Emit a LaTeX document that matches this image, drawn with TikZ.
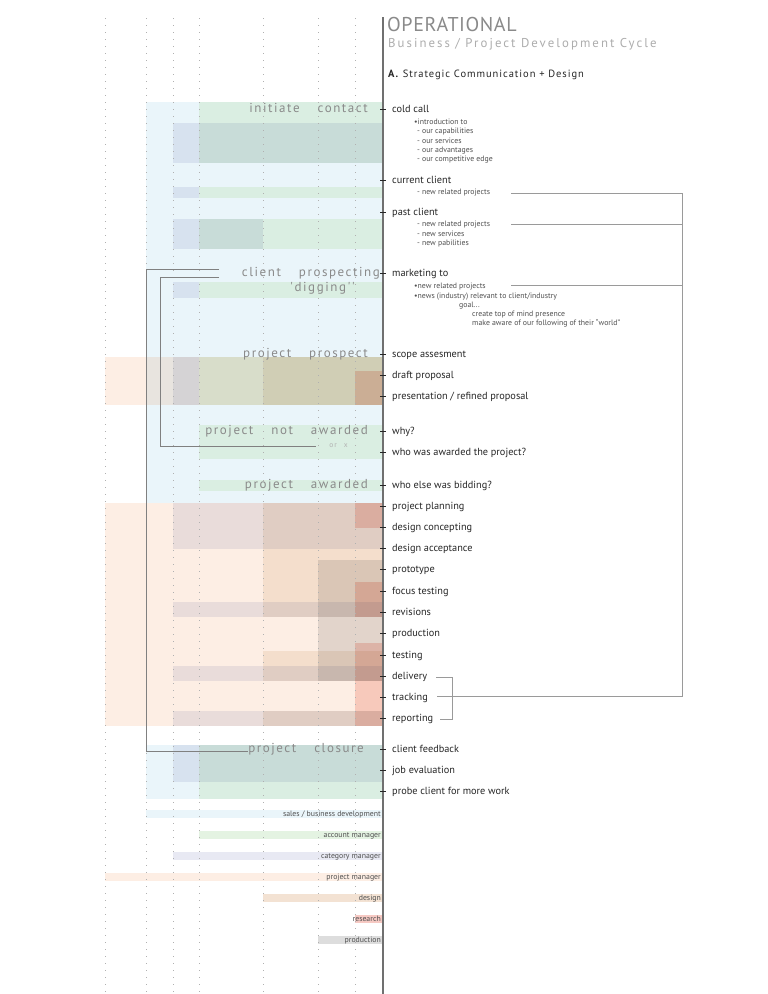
\documentclass[tikz,border=0pt]{standalone}
\usepackage{fontspec}
\setmainfont{PT Sans}
\newfontfamily\spaced[LetterSpace=12]{PT Sans}
\newfontfamily\hdrA[LetterSpace=3]{PT Sans}
\newfontfamily\hdrB[LetterSpace=16]{PT Sans}
\newfontfamily\hdrC[LetterSpace=9]{PT Sans}
\definecolor{cS}{HTML}{EAF5FA}
\definecolor{cA}{HTML}{EEF8E7}
\definecolor{cC}{HTML}{EBECF4}
\definecolor{cP}{HTML}{FDEEE4}
\definecolor{cD}{HTML}{F6EEE5}
\definecolor{cG}{HTML}{E4E4E4}
\definecolor{cR}{HTML}{F9D8D2}
\definecolor{lS}{HTML}{EAF5FA}
\definecolor{lA}{HTML}{E4F3E2}
\definecolor{lC}{HTML}{E8E9F3}
\definecolor{lP}{HTML}{FDEEE4}
\definecolor{lD}{HTML}{F3E2D3}
\definecolor{lR}{HTML}{F6C9C3}
\definecolor{lG}{HTML}{DDDDDD}
\definecolor{txt}{HTML}{262626}
\definecolor{subtxt}{HTML}{505050}
\definecolor{stagegrey}{HTML}{8A8A8A}
\definecolor{linegrey}{HTML}{9A9A9A}
\definecolor{dotgrey}{HTML}{B0B0B0}
\definecolor{mainline}{HTML}{707070}
\newcommand\myband[5]{\fill[#1] (#2,#4) rectangle (#3,#5);}
\newcommand\wgap{\hspace{18pt}}
\begin{document}
\begin{tikzpicture}[x=1pt,y=-1pt,
  item/.style={anchor=base west, inner sep=0pt, font=\fontsize{10.3}{12}\selectfont, text=txt},
  sub/.style={anchor=base west, inner sep=0pt, font=\fontsize{7.8}{9}\selectfont, text=subtxt},
  stage/.style={anchor=base east, inner sep=0pt, font=\spaced\fontsize{13}{15}\selectfont, text=stagegrey},
  legendtxt/.style={anchor=base east, inner sep=0pt, font=\fontsize{7.8}{9}\selectfont, text=subtxt},
  conn/.style={draw=linegrey, line width=0.8pt},
  dots/.style={draw=dotgrey, line width=0.7pt, dash pattern=on 0.7pt off 6.3pt},
  tick/.style={draw=txt, line width=0.8pt}]
\useasboundingbox (0,0) rectangle (768,994);
\fill[white] (0,0) rectangle (768,994);
% ---------- role bands ----------
\begin{scope}[blend mode=multiply]
% sales
\myband{cS}{146}{383}{102}{503}
\myband{cS}{146}{383}{745}{799}
% project manager
\myband{cP}{105}{383}{357}{405}
\myband{cP}{105}{383}{503}{726}
% account manager
\myband{cA}{199}{383}{102}{163}
\myband{cA}{199}{383}{187}{198}
\myband{cA}{199}{383}{219}{249}
\myband{cA}{199}{383}{282}{298}
\myband{cA}{199}{383}{357}{405}
\myband{cA}{199}{383}{425}{459}
\myband{cA}{199}{383}{480}{491}
\myband{cA}{199}{383}{745}{799}
% category manager
\myband{cC}{173}{383}{123}{163}
\myband{cC}{173}{199}{187}{198}
\myband{cC}{173}{263}{219}{249}
\myband{cC}{173}{199}{282}{298}
\myband{cC}{173}{199}{357}{405}
\myband{cC}{173}{383}{503}{549}
\myband{cC}{173}{383}{602}{617}
\myband{cC}{173}{383}{666}{681}
\myband{cC}{173}{383}{711}{726}
\myband{cC}{173}{383}{745}{782}
% design
\myband{cD}{263}{383}{357}{405}
\myband{cD}{263}{383}{503}{617}
\myband{cD}{263}{383}{651}{681}
\myband{cD}{263}{383}{711}{726}
% production
\myband{cG}{318}{383}{560}{681}
% research
\myband{cR}{355}{383}{371}{405}
\myband{cR}{355}{383}{503}{528}
\myband{cR}{355}{383}{582}{617}
\myband{cR}{355}{383}{643}{726}
\end{scope}
% legend bars
\myband{lS}{146}{383}{810}{818}
\myband{lA}{199}{383}{831}{839}
\myband{lC}{173}{383}{852}{860}
\myband{lP}{105}{383}{873}{881}
\myband{lD}{263}{383}{894}{902}
\myband{lR}{355}{383}{915}{923}
\myband{lG}{318}{383}{936}{944}
% ---------- dotted column lines ----------
\foreach \xx in {105,146,173,199,263,318,355}{
  \draw[dots] (\xx,18) -- (\xx,994);
}
% ---------- main line ----------
\coordinate (mtop) at (383,17);
\coordinate (mbot) at (383,994);
\draw[draw=mainline, line width=1.2pt] (mtop) -- (mbot);
% ---------- header ----------
\node[anchor=base west, inner sep=0pt, font=\hdrA\fontsize{20}{22}\selectfont, text=stagegrey] (h1) at (387,31) {OPERATIONAL};
\node[anchor=base west, inner sep=0pt, font=\hdrB\fontsize{12.8}{15}\selectfont, text=black!32] (h2) at (388,47) {Business / Project Development Cycle};
\node[anchor=base west, inner sep=0pt, font=\hdrC\fontsize{10.5}{12}\selectfont, text=txt] (h3) at (388,77) {\textbf{A.} Strategic Communication + Design};
% ---------- stage labels ----------
\node[stage] (s1) at (368,112) {initiate\wgap contact};
\node[stage] (s2) at (380,276) {client\wgap prospecting};
\node[stage] (s2b) at (355,291) {'digging''};
\node[stage] (s3) at (368,357) {project\wgap prospect};
\node[stage] (s4) at (368,434) {project\wgap not\wgap awarded};
\node[anchor=base east, inner sep=0pt, font=\spaced\fontsize{7.5}{9}\selectfont, text=black!30] (s4b) at (348,447) {or\hspace{7pt}x};
\node[stage] (s5) at (368,488) {project\wgap awarded};
\node[stage] (s6) at (364,752) {project\wgap closure};
% ---------- items ----------
\foreach \nm/\yy/\tx in {
 i1/109/{cold call}, i2/180/{current client}, i3/212/{past client}, i4/273/{marketing to},
 i5/354/{scope assesment}, i6/375/{draft proposal}, i7/396/{presentation / refined proposal},
 i8/431/{why?}, i9/452/{who was awarded the project?}, i10/485/{who else was bidding?},
 i11/506/{project planning}, i12/527/{design concepting}, i13/548/{design acceptance},
 i14/569/{prototype}, i15/591/{focus testing}, i16/612/{revisions}, i17/633/{production},
 i18/655/{testing}, i19/676/{delivery}, i20/697/{tracking}, i21/718/{reporting},
 i22/749/{client feedback}, i23/770/{job evaluation}, i24/791/{probe client for more work}}{
  \node[item] (\nm) at (392,\yy+3) {\tx};
  \coordinate (\nm-t1) at (380,\yy);
  \coordinate (\nm-t2) at (386,\yy);
  \draw[tick] (\nm-t1) -- (\nm-t2);
}
% ---------- sub items ----------
\node[sub] (c1) at (414,124.5) {•introduction to};
\node[sub] (c2) at (417,133.8) {- our capabilities};
\node[sub] (c3) at (417,143.1) {- our services};
\node[sub] (c4) at (417,152.4) {- our advantages};
\node[sub] (c5) at (417,161.7) {- our competitive edge};
\node[sub] (cc1) at (417,194) {- new related projects};
\node[sub] (p1) at (417,226.5) {- new related projects};
\node[sub] (p2) at (417,236) {- new services};
\node[sub] (p3) at (417,245.5) {- new pabilities};
\node[sub] (m1) at (414,288.5) {•new related projects};
\node[sub] (m2) at (414,298) {•news (industry) relevant to client/industry};
\node[sub] (m3) at (459,307) {goal...};
\node[sub] (m4) at (472,316) {create top of mind presence};
\node[sub] (m5) at (472,325.5) {make aware of our following of their ``world''};
% ---------- right connectors ----------
\coordinate (r1a) at (511,193); \coordinate (r1b) at (682,193);
\coordinate (r2a) at (511,224); \coordinate (r2b) at (682,224);
\coordinate (r3a) at (511,285); \coordinate (r3b) at (682,285);
\coordinate (r4b) at (682,696); \coordinate (r4a) at (437,696);
\draw[conn] (r1a) -- (r1b) -- (r4b) -- (r4a);
\draw[conn] (r2a) -- (r2b);
\draw[conn] (r3a) -- (r3b);
\coordinate (b1) at (436,677); \coordinate (b2) at (452,677);
\coordinate (b3) at (452,719); \coordinate (b4) at (440,719);
\draw[conn] (b1) -- (b2) -- (b3) -- (b4);
% ---------- left brackets ----------
\coordinate (o1) at (219,269); \coordinate (o2) at (146,269);
\coordinate (o3) at (146,751); \coordinate (o4) at (248,751);
\draw[conn, draw=black!50] (o1) -- (o2) -- (o3) -- (o4);
\coordinate (n1) at (219,277); \coordinate (n2) at (160,277);
\coordinate (n3) at (160,446); \coordinate (n4) at (316,446);
\draw[conn, draw=black!50] (n1) -- (n2) -- (n3) -- (n4);
% ---------- legend text ----------
\node[legendtxt] (l1) at (381,816.5) {sales / business development};
\node[legendtxt] (l2) at (381,837.5) {account manager};
\node[legendtxt] (l3) at (381,858.5) {category manager};
\node[legendtxt] (l4) at (381,879.5) {project manager};
\node[legendtxt] (l5) at (381,900.5) {design};
\node[legendtxt] (l6) at (381,921.5) {research};
\node[legendtxt] (l7) at (381,942.5) {production};
\end{tikzpicture}
\end{document}
